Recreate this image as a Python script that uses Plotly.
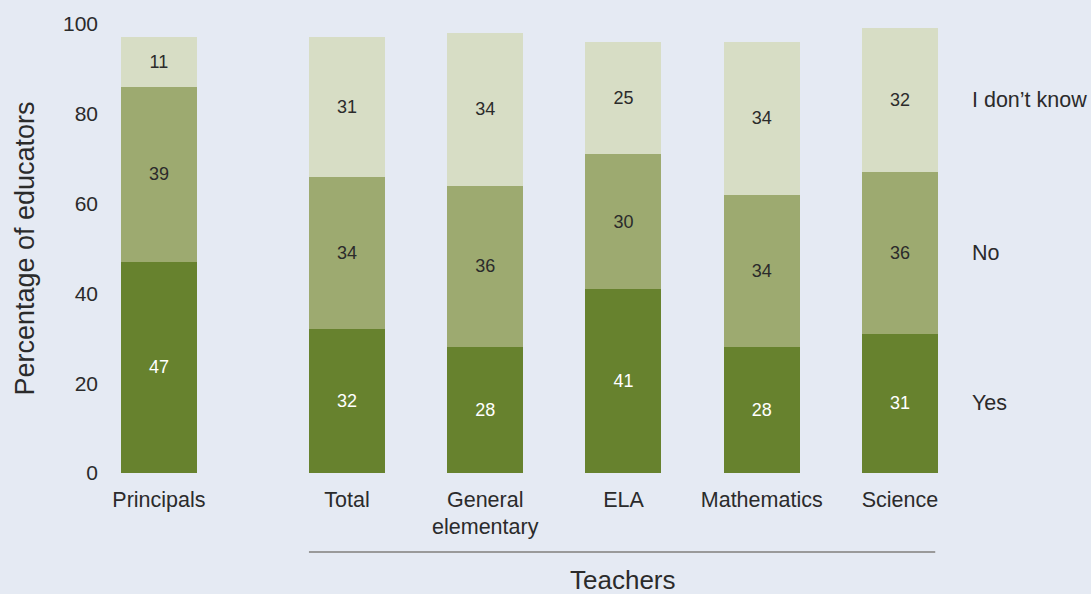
import plotly.graph_objects as go

# Survey groups and responses (percent of educators)
groups = ["Principals", "Total", "General<br>elementary", "ELA", "Mathematics", "Science"]
yes_vals = [47, 32, 28, 41, 28, 31]
no_vals = [39, 34, 36, 30, 34, 36]
dont_know_vals = [11, 31, 34, 25, 34, 32]
y_ticks = [0, 20, 40, 60, 80, 100]

# Horizontal layout: principals set apart from the teacher subgroups
x_pos = [0, 1.36, 2.36, 3.36, 4.36, 5.36]
bar_width = 0.55

BG = "#e5eaf3"
TEXT = "#2b2b2b"
FONT = "Liberation Sans, Arial, Helvetica, sans-serif"

series = [
    ("Yes", yes_vals, "#67822e", "#ffffff"),
    ("No", no_vals, "#9daa70", TEXT),
    ("I don\u2019t know", dont_know_vals, "#d7ddc5", TEXT),
]

fig = go.Figure()
for name, vals, color, tcolor in series:
    fig.add_trace(go.Bar(
        x=x_pos, y=vals, name=name, width=bar_width,
        marker=dict(color=color, line=dict(width=0)),
        text=[str(v) for v in vals], textposition="inside",
        insidetextanchor="middle", textangle=0, constraintext="none",
        textfont=dict(family=FONT, size=18, color=tcolor),
        hoverinfo="skip",
    ))

# Series names next to the last bar, at the middle of each segment
last = len(groups) - 1
base = 0
for name, vals, _, _ in series:
    mid = base + vals[last] / 2
    base += vals[last]
    fig.add_annotation(
        x=x_pos[last], y=mid, xref="x", yref="y", text=name,
        showarrow=False, xanchor="left", xshift=70,
        font=dict(family=FONT, size=21.5, color=TEXT),
    )

# Bracket line and label for the teacher groups
fig.add_shape(type="line", xref="x", yref="paper",
              x0=x_pos[1] - bar_width / 2, x1=x_pos[-1] + bar_width / 2 - 0.02,
              y0=-0.176, y1=-0.176,
              line=dict(color="#9a9a9a", width=2))
fig.add_annotation(
    x=(x_pos[1] - bar_width / 2 + x_pos[-1] + bar_width / 2) / 2, y=-0.238,
    xref="x", yref="paper", text="Teachers", showarrow=False,
    yanchor="middle", font=dict(family=FONT, size=26, color=TEXT),
)

fig.update_layout(
    barmode="stack",
    width=1091, height=594,
    paper_bgcolor=BG, plot_bgcolor=BG,
    margin=dict(l=110, r=136, t=22, b=121),
    showlegend=False,
    font=dict(family=FONT, color=TEXT),
    xaxis=dict(
        range=[-0.354, 5.758], tickvals=x_pos, ticktext=groups,
        showgrid=False, zeroline=False, showline=False, ticks="",
        ticklabelstandoff=11,
        tickfont=dict(family=FONT, size=21.5, color=TEXT),
    ),
    yaxis=dict(
        range=[0, 100], tickvals=y_ticks, showgrid=False, zeroline=False,
        showline=False, ticks="", ticklabelstandoff=11,
        tickfont=dict(family=FONT, size=21, color=TEXT),
        title=dict(text="Percentage of educators", standoff=20,
                   font=dict(family=FONT, size=27, color=TEXT)),
    ),
)

fig.write_html("out.html")
